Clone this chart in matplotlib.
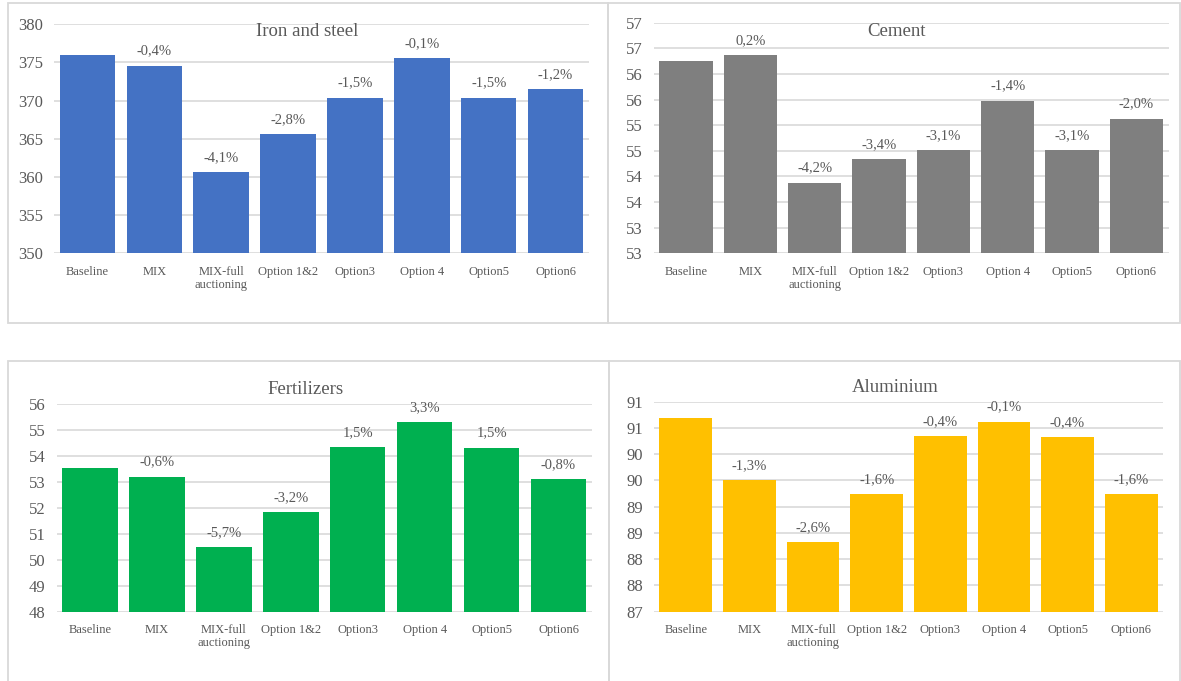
import matplotlib
matplotlib.use("Agg")
import matplotlib.pyplot as plt
from matplotlib.patches import Rectangle
import math

categories = ["Baseline", "MIX", "MIX-full\nauctioning", "Option 1&2", "Option3",
              "Option 4", "Option5", "Option6"]

iron_values = [376.0, 374.6, 360.6, 365.6, 370.4, 375.6, 370.4, 371.5]
iron_pct = [None, -0.4, -4.1, -2.8, -1.5, -0.1, -1.5, -1.2]

cement_values = [56.26, 56.37, 53.88, 54.34, 54.51, 55.48, 54.51, 55.13]
cement_pct = [None, 0.2, -4.2, -3.4, -3.1, -1.4, -3.1, -2.0]

fert_values = [53.53, 53.21, 50.49, 51.83, 54.34, 55.32, 54.33, 53.10]
fert_pct = [None, -0.6, -5.7, -3.2, 1.5, 3.3, 1.5, -0.8]

alu_values = [90.68, 89.51, 88.33, 89.24, 90.34, 90.62, 90.32, 89.24]
alu_pct = [None, -1.3, -2.6, -1.6, -0.4, -0.1, -0.4, -1.6]

W, H = 1181, 681
fig = plt.figure(figsize=(W / 100, H / 100), dpi=100)
fig.patch.set_facecolor("white")

SERIF = ["Liberation Serif", "DejaVu Serif"]
TXT = "#595959"
GRID = "#D9D9D9"


def fig_rect(left, right, top, bottom):
    return [left / W, 1 - bottom / H, (right - left) / W, (bottom - top) / H]


def excel_round(v):
    return str(int(math.floor(v + 0.5 + 1e-9)))


panels = [
    dict(title="Iron and steel", vals=iron_values, pct=iron_pct, color="#4472C4",
         box=(54, 589, 24.3, 253.3), ylim=(350, 380), step=5, title_xy=(307, 31),
         border=(8, 608, 3, 323)),
    dict(title="Cement", vals=cement_values, pct=cement_pct, color="#7F7F7F",
         box=(654, 1168.5, 22.7, 253.3), ylim=(52.5, 57), step=0.5, title_xy=(897, 31),
         border=(608, 1180, 3, 323)),
    dict(title="Fertilizers", vals=fert_values, pct=fert_pct, color="#00B050",
         box=(56.5, 592, 404.3, 611.7), ylim=(48, 56), step=1, title_xy=(306, 390),
         border=(8, 609, 361, 684)),
    dict(title="Aluminium", vals=alu_values, pct=alu_pct, color="#FFC000",
         box=(654, 1163, 401.7, 611.7), ylim=(87, 91), step=0.5, title_xy=(895, 387),
         border=(609, 1180, 361, 684)),
]

for p in panels:
    bl, br, bt, bb = p["border"]
    fig.patches.append(Rectangle((bl / W, 1 - bb / H), (br - bl) / W, (bb - bt) / H,
                                 transform=fig.transFigure, fill=False,
                                 edgecolor=GRID, linewidth=1.3, zorder=0))

    ax = fig.add_axes(fig_rect(*p["box"]))
    x = list(range(len(categories)))
    lo, hi = p["ylim"]
    ax.bar(x, [v - lo for v in p["vals"]], bottom=lo, width=0.83,
           color=p["color"], zorder=3)
    ax.set_xlim(-0.5, len(categories) - 0.5)
    ax.set_ylim(lo, hi)
    n = int(round((hi - lo) / p["step"]))
    ticks = [lo + i * p["step"] for i in range(n + 1)]
    ax.set_yticks(ticks)
    if p["step"] < 1:
        ax.set_yticklabels([excel_round(t) for t in ticks])
    else:
        ax.set_yticklabels([str(int(t)) for t in ticks])
    ax.set_xticks(x)
    ax.set_xticklabels(categories)
    for lab in ax.get_yticklabels():
        lab.set_fontfamily(SERIF)
        lab.set_fontsize(12)
        lab.set_color(TXT)
    for lab in ax.get_xticklabels():
        lab.set_fontfamily(SERIF)
        lab.set_fontsize(9)
        lab.set_color(TXT)
        lab.set_linespacing(1.1)
    ax.tick_params(axis="both", length=0)
    ax.tick_params(axis="y", pad=8)
    ax.tick_params(axis="x", pad=9)
    for s in ax.spines.values():
        s.set_visible(False)
    ax.yaxis.grid(True, color=GRID, linewidth=1.2, zorder=0)
    ax.set_axisbelow(True)
    ax.patch.set_alpha(0)

    for xi, v, pc in zip(x, p["vals"], p["pct"]):
        if pc is None:
            continue
        label = ("%.1f%%" % pc).replace(".", ",")
        ax.annotate(label, (xi, v), xytext=(0, 8), textcoords="offset points",
                    ha="center", va="baseline", fontsize=10.5, family=SERIF,
                    color=TXT, zorder=5)

    tx, ty = p["title_xy"]
    fig.text(tx / W, 1 - ty / H, p["title"], ha="center", va="center",
             fontsize=13.5, family=SERIF, color=TXT)

fig.savefig("out.png", dpi=100, facecolor="white")
